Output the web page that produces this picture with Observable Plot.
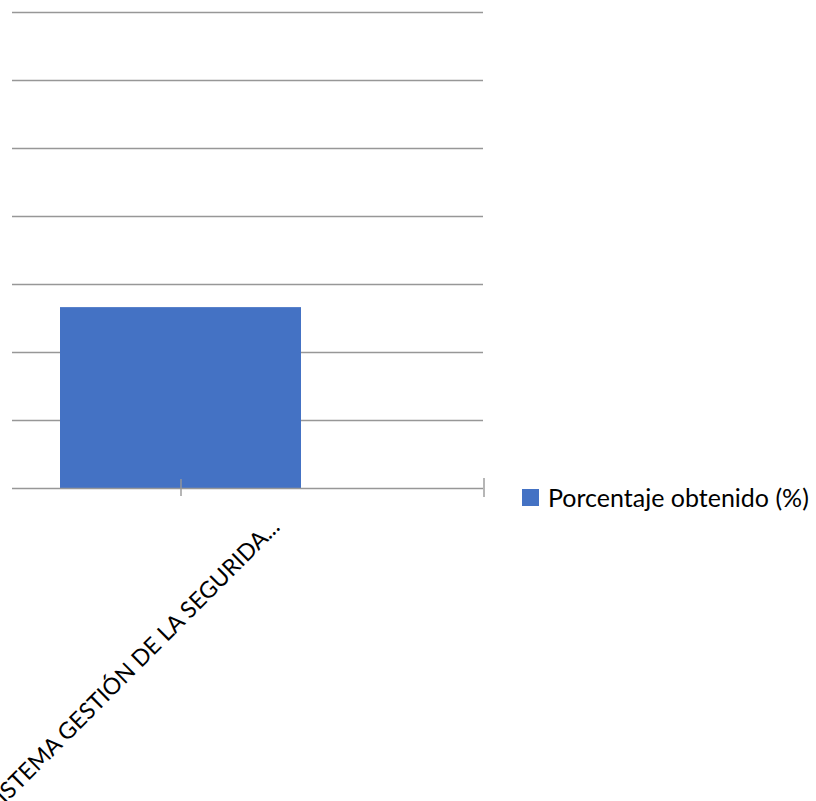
<!DOCTYPE html>
<html>
<head>
<meta charset="utf-8">
<script src="https://cdn.jsdelivr.net/npm/d3@7"></script>
<script src="https://cdn.jsdelivr.net/npm/@observablehq/plot@0.6"></script>
<style>
  html, body { margin: 0; padding: 0; background: #fff; }
  #wrap { position: relative; width: 816px; height: 801px; overflow: hidden; }
  #legend { position: absolute; left: 522px; top: 482px; display: flex; align-items: center;
            font-family: Lato, "Open Sans", sans-serif; font-size: 25px; color: #000; white-space: nowrap; }
  #legend .sw { width: 17px; height: 17px; margin-right: 9px; }
</style>
</head>
<body>
<div id="wrap"><div id="chart"></div><div id="legend"></div></div>
<script>
const categories = ["SISTEMA GESTIÓN DE LA SEGURIDA..."];
const values = [26.6];
const seriesName = "Porcentaje obtenido (%)";
const yTicks = [0, 10, 20, 30, 40, 50, 60, 70];
const barColor = "#4472C4";
const gridColor = "#979797";

const data = categories.map((c, i) => ({category: c, value: values[i]}));

const chart = Plot.plot({
  width: 816,
  height: 801,
  marginTop: 12,
  marginBottom: 313,
  marginLeft: 12,
  marginRight: 333,
  x: {domain: categories, range: [-123, 483], padding: 0.431, axis: null},
  y: {domain: [yTicks[0], yTicks[yTicks.length - 1]], axis: null},
  style: {fontFamily: "Lato, 'Open Sans', sans-serif", overflow: "hidden", background: "#fff"},
  marks: [
    Plot.ruleY(yTicks.slice(1), {stroke: gridColor, strokeWidth: 1.4}),
    Plot.barY(data, {x: "category", y: "value", fill: barColor}),
    Plot.ruleY([yTicks[0]], {stroke: gridColor, strokeWidth: 1.4}),
    Plot.ruleX(categories, {x: d => d, insetTop: 467, insetBottom: -8, stroke: gridColor, strokeWidth: 1.4}),
    Plot.ruleX(categories, {x: d => d, dx: 303, insetTop: 466, insetBottom: -9, stroke: gridColor, strokeWidth: 1.4}),
    Plot.text(categories, {x: d => d, frameAnchor: "bottom", dx: 100, dy: 40, rotate: -45,
      textAnchor: "end", text: d => d, fontSize: 23, fill: "#000"})
  ]
});
document.getElementById("chart").appendChild(chart);

const legend = document.getElementById("legend");
legend.innerHTML = `<div class="sw" style="background:${barColor}"></div><span>${seriesName}</span>`;
</script>
</body>
</html>
